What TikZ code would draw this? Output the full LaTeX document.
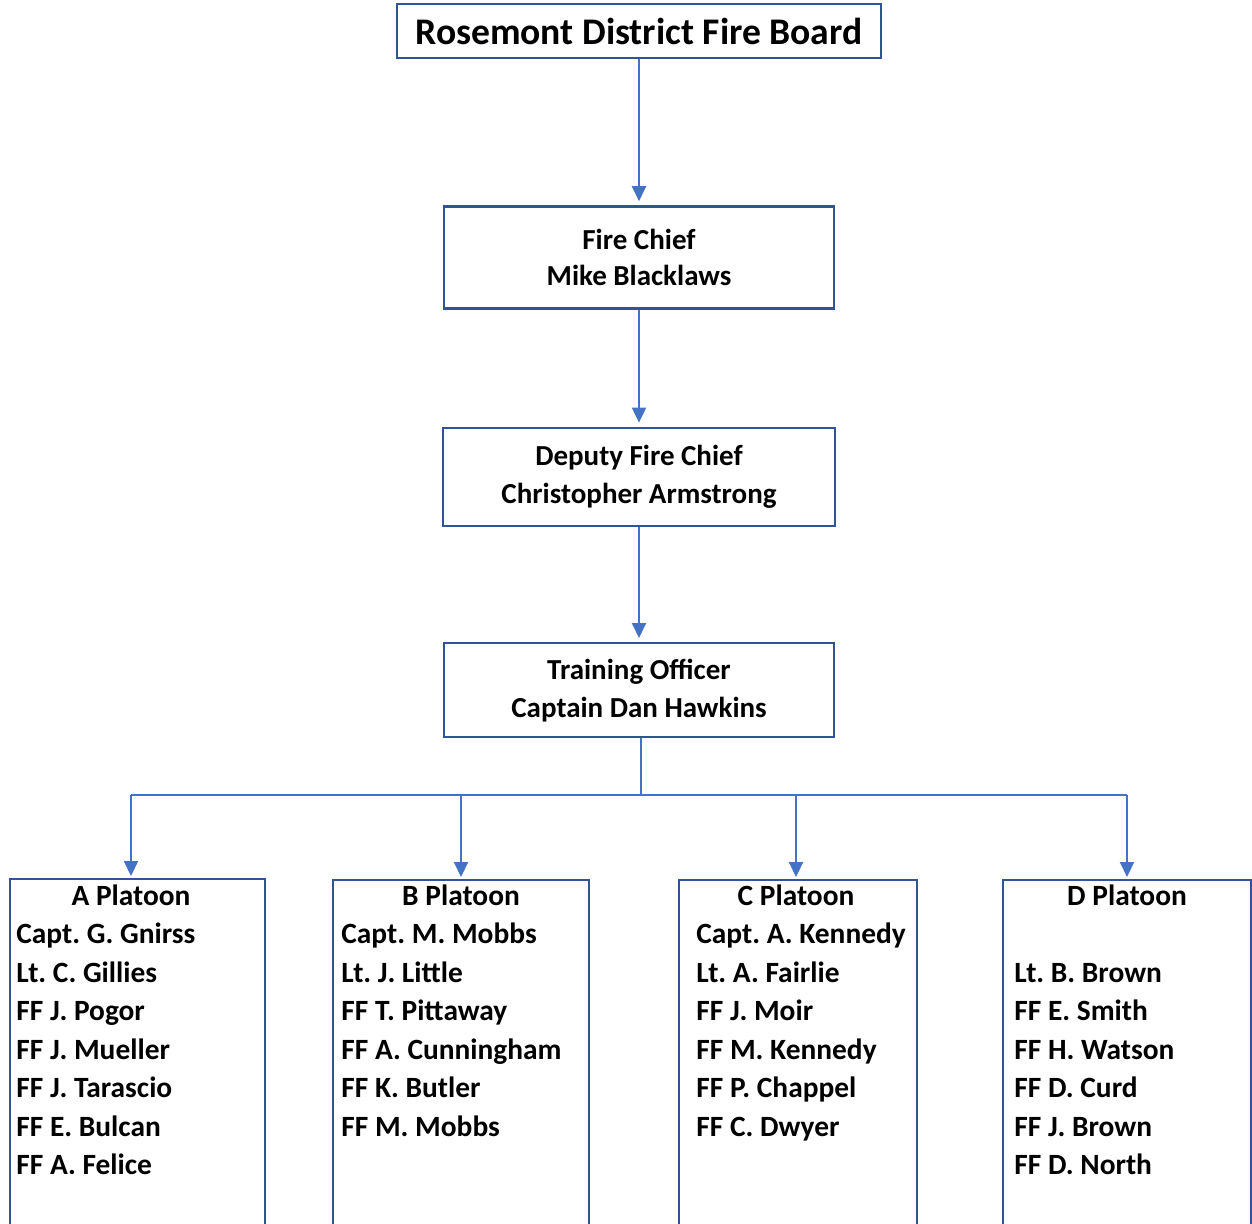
\documentclass[tikz,border=0pt]{standalone}
\usepackage{fontspec}
\setmainfont{Carlito}
\usepackage{xcolor}
\usetikzlibrary{positioning,arrows.meta}
\definecolor{boxblue}{RGB}{47,85,151}
\definecolor{linkblue}{RGB}{68,114,196}
\frenchspacing

\begin{document}
\begin{tikzpicture}[
        x=0.5pt, y=-0.5pt,
        every node/.style={font=\bfseries},
        office/.style={rectangle, draw=boxblue, line width=1.2pt, align=center, minimum width=195pt, font=\bfseries\fontsize{14.5}{19}\selectfont},
        platoon/.style={rectangle, draw=boxblue, line width=1.2pt, anchor=north, minimum height=250pt},
        head/.style={anchor=base, inner sep=0pt, font=\bfseries\fontsize{14.7}{18}\selectfont},
        crew/.style={anchor=base west, inner sep=0pt, font=\bfseries\fontsize{14.7}{18}\selectfont},
        link/.style={draw=linkblue, line width=1pt, -{Triangle[width=7pt,length=7.5pt]}, shorten >=2pt},
        busline/.style={draw=linkblue, line width=0.8pt}
    ]
        \clip (0,0) rectangle (1252,1223);

        \node[office, minimum width=242pt, minimum height=27pt, font=\bfseries\fontsize{18.8}{22}\selectfont] (board) at (639,31) {Rosemont District Fire Board};
        \node[office, below=73pt of board, minimum height=51pt, font=\bfseries\fontsize{14.5}{18}\selectfont] (chief) {Fire Chief\\Mike Blacklaws};
        \node[office, below=58.5pt of chief, minimum height=49pt, minimum width=196pt] (deputy) {Deputy Fire Chief\\Christopher Armstrong};
        \node[office, below=57.5pt of deputy, minimum height=47pt] (training) {Training Officer\\Captain Dan Hawkins};

        % platoon boxes run off the bottom edge
        \node[platoon, minimum width=127.5pt] (pa) at (137.5,878) {};
        \node[platoon, minimum width=128pt] (pb) at (461,879) {};
        \node[platoon, minimum width=119pt] (pc) at (798,879) {};
        \node[platoon, minimum width=124pt] (pd) at (1127,879) {};

        \node[head] (ah) at (131,905) {A Platoon};
        \node[head] (bh) at (461,905) {B Platoon};
        \node[head] (ch) at (796,905) {C Platoon};
        \node[head] (dh) at (1127,905) {D Platoon};

        \foreach \name [count=\i] in {Capt. G. Gnirss, Lt. C. Gillies, FF J. Pogor, FF J. Mueller, FF J. Tarascio, FF E. Bulcan, FF A. Felice}
            \node[crew] (a\i) at (16,905+38.5*\i) {\name};
        \foreach \name [count=\i] in {Capt. M. Mobbs, Lt. J. Little, FF T. Pittaway, FF A. Cunningham, FF K. Butler, FF M. Mobbs}
            \node[crew] (b\i) at (341,905+38.5*\i) {\name};
        \foreach \name [count=\i] in {Capt. A. Kennedy, Lt. A. Fairlie, FF J. Moir, FF M. Kennedy, FF P. Chappel, FF C. Dwyer}
            \node[crew] (c\i) at (696,905+38.5*\i) {\name};
        \foreach \name [count=\i from 2] in {Lt. B. Brown, FF E. Smith, FF H. Watson, FF D. Curd, FF J. Brown, FF D. North}
            \node[crew] (d\i) at (1014,905+38.5*\i) {\name};

        \draw[link] (board) -- (chief);
        \draw[link] (chief) -- (deputy);
        \draw[link] (deputy) -- (training);

        \coordinate (bus) at (641,795);
        \draw[busline] (training.south -| bus) -- (bus);
        \draw[busline] (ah |- bus) -- (dh |- bus);
        \foreach \p in {a,b,c,d}
            \draw[link, shorten >=1pt] (\p h |- bus) -- (\p h |- p\p.north);
    \end{tikzpicture}
\end{document}
